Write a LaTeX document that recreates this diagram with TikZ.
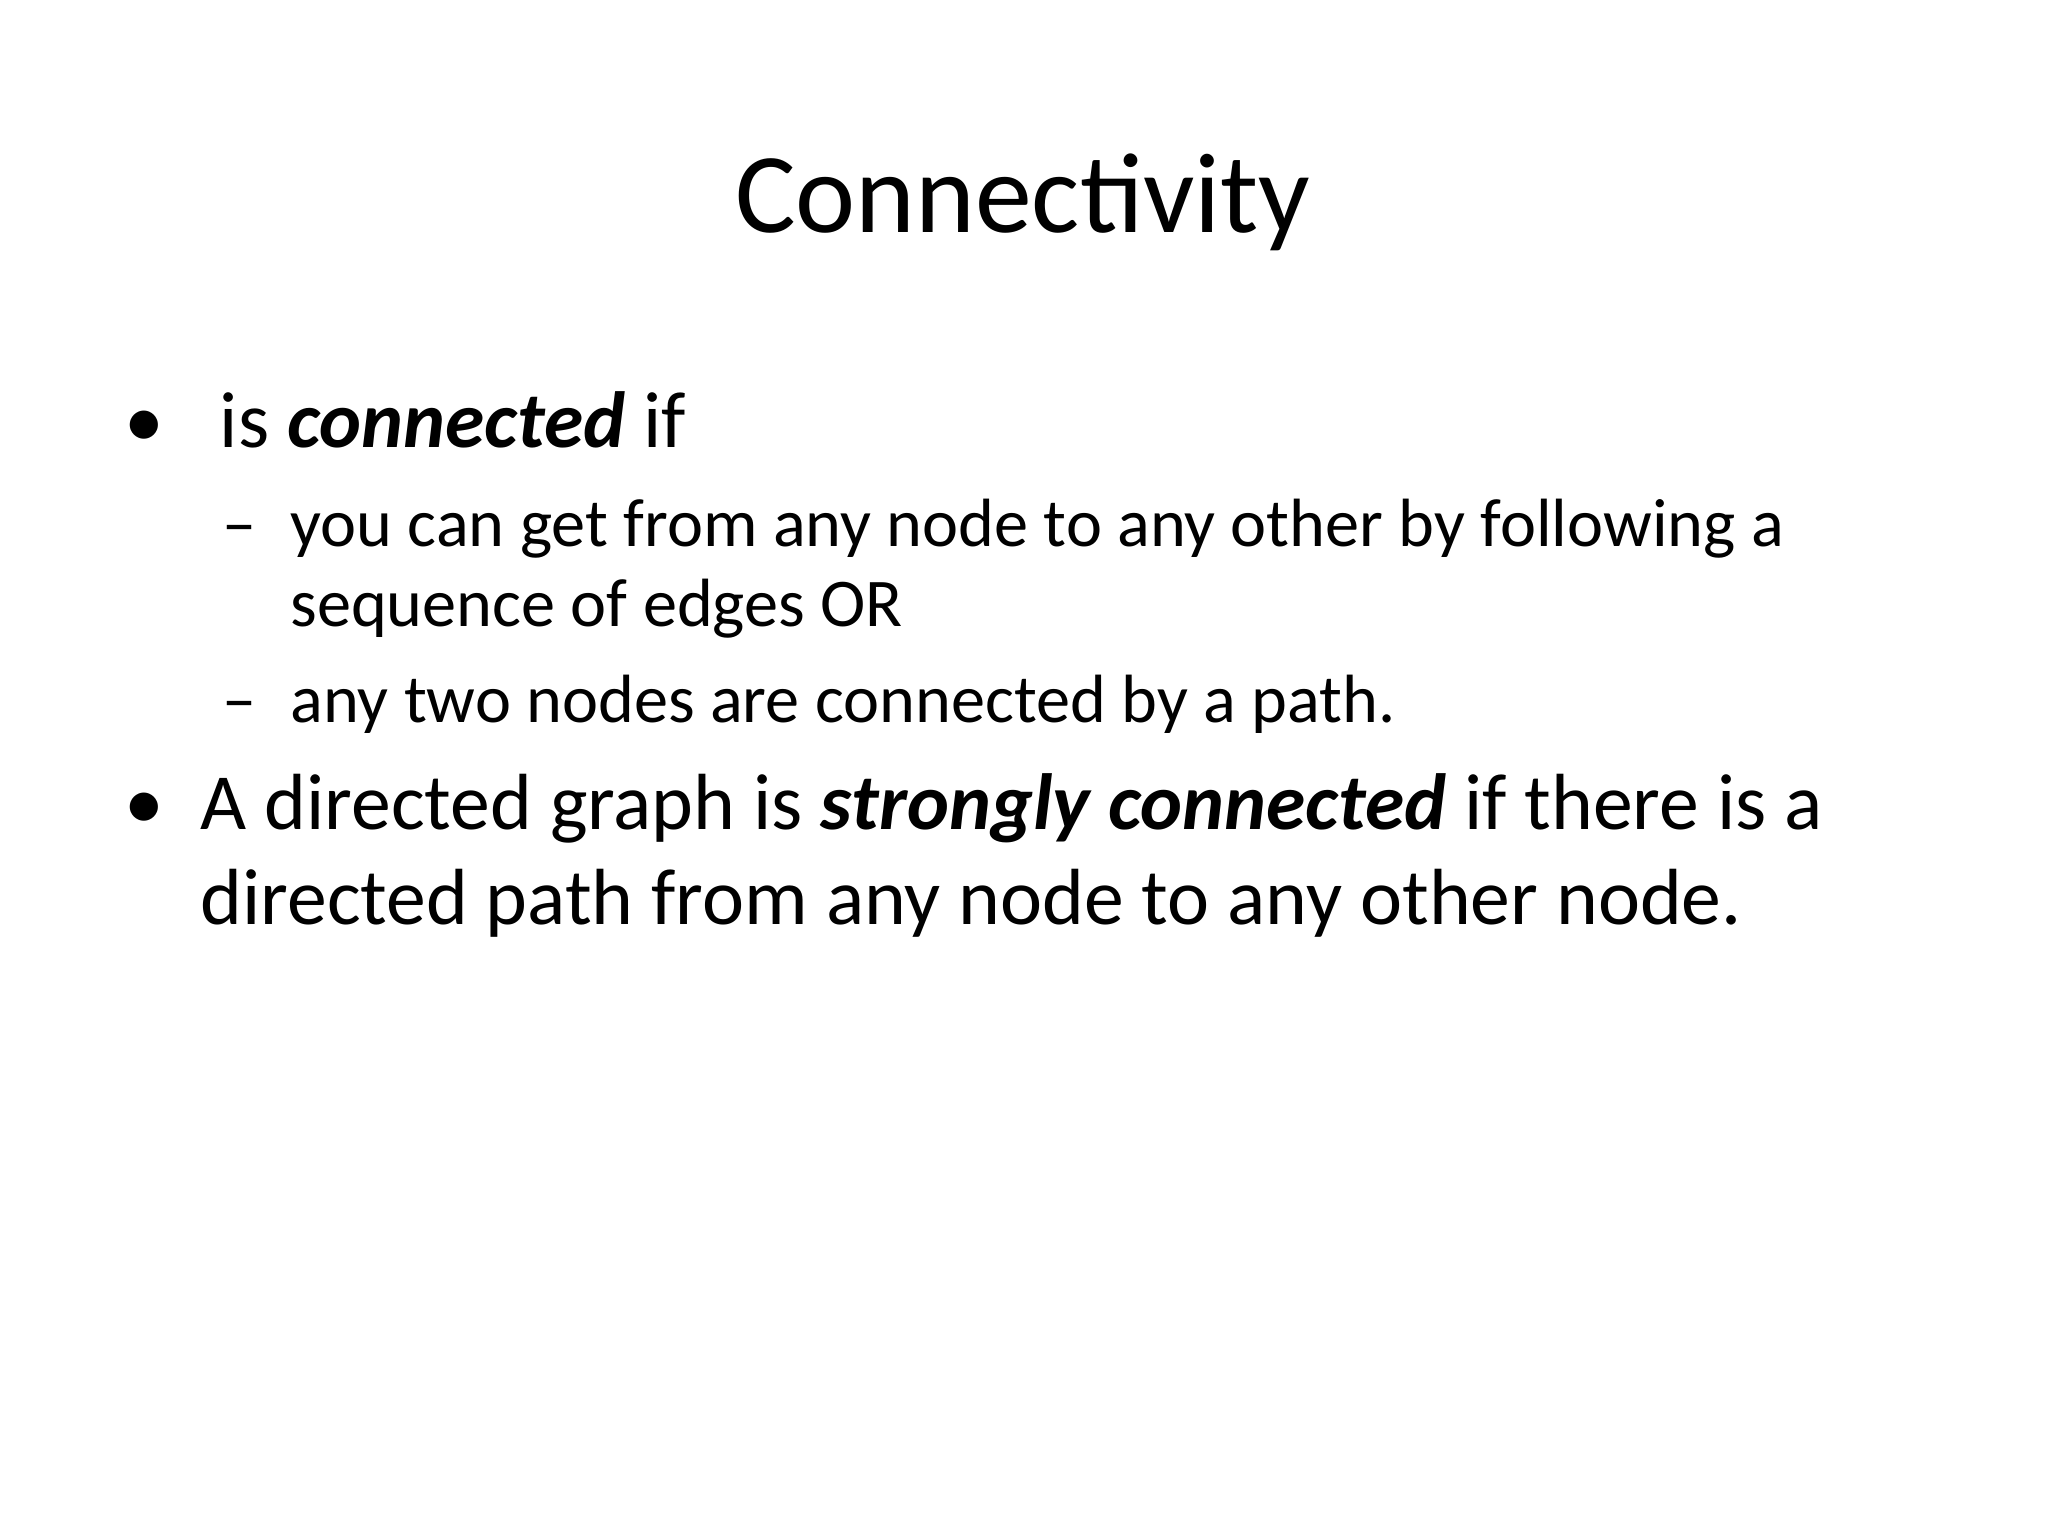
\documentclass[tikz,border=0pt]{standalone}
\usepackage{fontspec}
\setmainfont{Carlito}
\begin{document}
\begin{tikzpicture}[x=1pt,y=-1pt,
  t/.style={anchor=base west,inner sep=0pt},
  big/.style={t,font=\fontsize{28}{33.6}\selectfont},
  small/.style={t,font=\fontsize{24}{29}\selectfont}]
\useasboundingbox (0,0) rectangle (720,540);
\node[anchor=base,inner sep=0pt,font=\fontsize{40}{48}\selectfont] (title) at (359.6,81.7) {Connectivity};
\node[big] (b1) at (43.5,157.5) {•};
\node[big] (l1) at (77.1,157.5) {is \textbf{\textit{connected}} if};
\node[small] (d1) at (78,192) {–};
\node[small] (l2) at (101.9,192) {you can get from any node to any other by following a};
\node[small] (l3) at (101.9,220.4) {sequence of edges OR};
\node[small] (d2) at (78,254) {–};
\node[small] (l4) at (101.9,254) {any two nodes are connected by a path.};
\node[big] (b2) at (43.5,291.6) {•};
\node[big] (l5) at (70.3,291.6) {A directed graph is \textbf{\textit{strongly connected}} if there is a};
\node[big] (l6) at (70.3,325.1) {directed path from any node to any other node.};
\end{tikzpicture}
\end{document}
